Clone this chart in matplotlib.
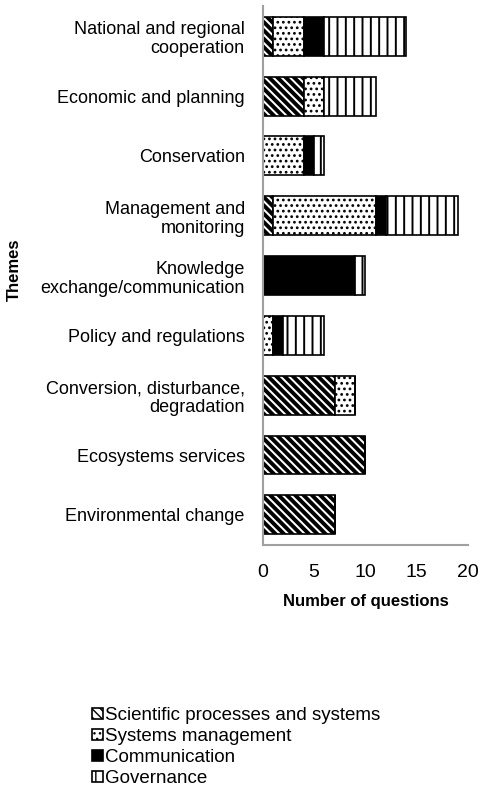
import matplotlib
matplotlib.use("Agg")
import numpy as np
from matplotlib import pyplot as plt

themes = ["National and regional\ncooperation", "Economic and planning", "Conservation",
          "Management and\nmonitoring", "Knowledge\nexchange/communication",
          "Policy and regulations", "Conversion, disturbance,\ndegradation",
          "Ecosystems services", "Environmental change"]
scientific = [1, 4, 0, 1, 0, 0, 7, 10, 7]
systems = [3, 2, 4, 10, 0, 1, 2, 0, 0]
communication = [2, 0, 1, 1, 9, 1, 0, 0, 0]
governance = [8, 5, 1, 7, 1, 4, 0, 0, 0]
series_names = ["Scientific processes and systems", "Systems management",
                "Communication", "Governance"]
x_ticks = [0, 5, 10, 15, 20]

plt.rcParams['font.family'] = ['Liberation Sans', 'DejaVu Sans']

fig = plt.figure(figsize=(4.85, 7.93), dpi=100)
ax = fig.add_axes([0.542, 0.313, 0.423, 0.679])

y = np.arange(len(themes))
# fill colour, hatch, hatch line width
styles = [('white', '\\\\\\\\', 2.8),
          ('white', '...', 1.2),
          ('black', None, 1.0),
          ('white', '||', 1.4)]
left = np.zeros(len(themes))
handles = []
for vals, name, (fc, hatch, hlw) in zip([scientific, systems, communication, governance],
                                        series_names, styles):
    with plt.rc_context({'hatch.linewidth': hlw}):
        b = ax.barh(y, vals, left=left, height=0.65, color=fc, hatch=hatch,
                    edgecolor='black', linewidth=1.2, label=name)
    handles.append(b)
    left += np.array(vals)

ax.set_ylim(len(themes) - 0.5, -0.5)
ax.set_xlim(0, 20)
ax.set_yticks(y)
ax.set_yticklabels(themes, fontsize=13, linespacing=1.15)
ax.set_xticks(x_ticks)
ax.set_xticklabels([str(t) for t in x_ticks], fontsize=14)
ax.tick_params(length=0)
ax.tick_params(axis='x', pad=14)
ax.tick_params(axis='y', pad=13)
for s in ['top', 'right']:
    ax.spines[s].set_visible(False)
for s in ['left', 'bottom']:
    ax.spines[s].set_color('#a0a0a0')
    ax.spines[s].set_linewidth(1.5)
ax.set_xlabel("Number of questions", fontsize=12, fontweight='bold', labelpad=9)
fig.text(0.03, 0.66, "Themes", rotation=90, fontsize=12, fontweight='bold',
         ha='center', va='center')

fig.legend(handles=handles, loc='upper left', bbox_to_anchor=(0.175, 0.118),
           frameon=False, fontsize=13.5, handlelength=0.55, handleheight=0.55,
           handletextpad=0.15, labelspacing=0.22, borderaxespad=0)

fig.savefig("out.png", dpi=100)
